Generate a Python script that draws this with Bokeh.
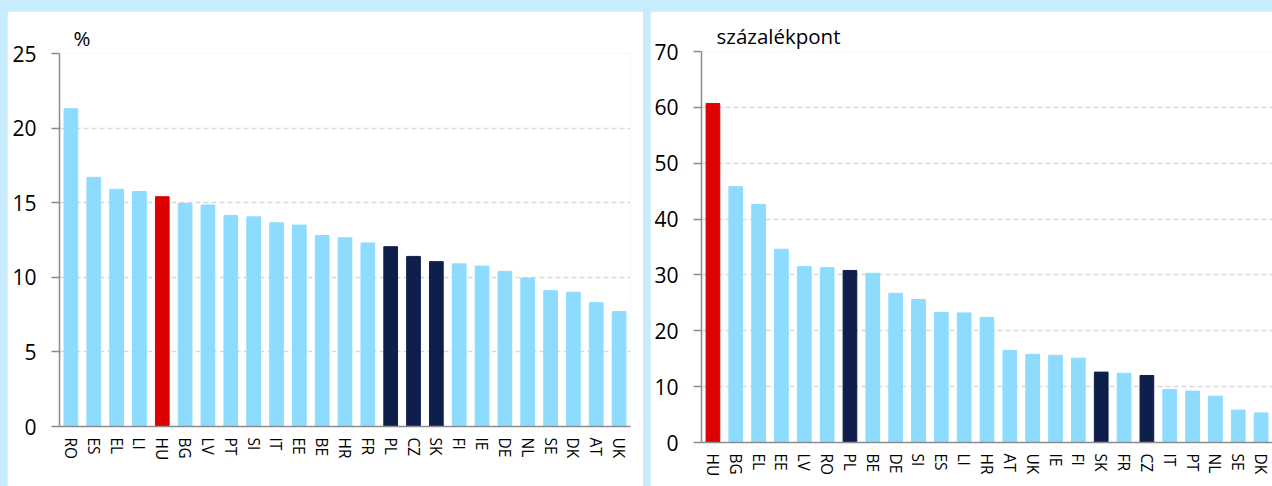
from bokeh.plotting import figure
from bokeh.layouts import row, column
from bokeh.models import FixedTicker, ColumnDataSource
from bokeh.embed import file_html
from bokeh.resources import INLINE

# ---- data ----
left_categories = ["RO", "ES", "EL", "LI", "HU", "BG", "LV", "PT", "SI", "IT", "EE", "BE", "HR",
                   "FR", "PL", "CZ", "SK", "FI", "IE", "DE", "NL", "SE", "DK", "AT", "UK"]
left_values = [21.3, 16.7, 15.9, 15.75, 15.4, 14.95, 14.85, 14.15, 14.05, 13.65, 13.5, 12.8, 12.65,
               12.3, 12.05, 11.4, 11.05, 10.9, 10.75, 10.4, 9.95, 9.1, 9.0, 8.3, 7.7]
left_ticks = [0, 5, 10, 15, 20, 25]
left_unit = "%"

right_categories = ["HU", "BG", "EL", "EE", "LV", "RO", "PL", "BE", "DE", "SI", "ES", "LI", "HR",
                    "AT", "UK", "IE", "FI", "SK", "FR", "CZ", "IT", "PT", "NL", "SE", "DK"]
right_values = [60.7, 45.8, 42.6, 34.6, 31.5, 31.3, 30.8, 30.3, 26.7, 25.6, 23.3, 23.2, 22.4,
                16.5, 15.8, 15.6, 15.1, 12.6, 12.4, 12.0, 9.5, 9.2, 8.3, 5.8, 5.3]
right_ticks = [0, 10, 20, 30, 40, 50, 60, 70]
right_unit = "százalékpont"

red_countries = ["HU"]
navy_countries = ["PL", "CZ", "SK"]

BASE = "#8ddcfe"
RED = "#dc0000"
NAVY = "#0e1f4b"
BAND = "#c6ecfd"
FONT = "Open Sans"


def make_panel(cats, vals, ticks, unit, width, height, mb_left, mb_top, mb_bottom, mb_right,
               title_offset, margin):
    colors = [RED if c in red_countries else NAVY if c in navy_countries else BASE for c in cats]
    src = ColumnDataSource(dict(x=cats, top=vals, color=colors))
    p = figure(x_range=cats, y_range=(0, ticks[-1]), width=width, height=height,
               output_backend="svg", toolbar_location=None, tools="",
               min_border_left=mb_left, min_border_right=mb_right,
               min_border_top=mb_top, min_border_bottom=mb_bottom,
               margin=margin)
    p.vbar(x="x", top="top", width=0.6, color="color", source=src)
    p.background_fill_color = "white"
    p.border_fill_color = "white"
    p.outline_line_color = None

    p.title.text = unit
    p.title.align = "left"
    p.title.offset = title_offset
    p.title.text_font = FONT
    p.title.text_font_size = "20.5px"
    p.title.text_font_style = "normal"
    p.title.text_color = "#000000"
    p.title.standoff = 4

    p.xgrid.grid_line_color = None
    p.ygrid.grid_line_color = "#d9d9d9"
    p.ygrid.grid_line_width = 1.5
    p.ygrid.grid_line_dash = "5 3"

    p.yaxis.ticker = FixedTicker(ticks=ticks)
    p.yaxis.axis_line_color = "#8c8c8c"
    p.yaxis.axis_line_width = 1.5
    p.yaxis.major_tick_line_color = "#8c8c8c"
    p.yaxis.major_tick_line_width = 1.5
    p.yaxis.major_tick_out = 8
    p.yaxis.major_tick_in = 0
    p.yaxis.minor_tick_line_color = None
    p.yaxis.major_label_standoff = 15
    p.yaxis.major_label_text_font = FONT
    p.yaxis.major_label_text_font_size = "21px"
    p.yaxis.major_label_text_color = "#000000"

    p.xaxis.axis_line_color = "#8c8c8c"
    p.xaxis.axis_line_width = 1.5
    p.xaxis.major_tick_line_color = None
    p.xaxis.major_tick_out = 0
    p.xaxis.major_tick_in = 0
    p.xaxis.minor_tick_line_color = None
    p.xaxis.major_label_orientation = "vertical"
    p.xaxis.major_label_standoff = 11
    p.xaxis.major_label_text_font = FONT
    p.xaxis.major_label_text_font_size = "15.5px"
    p.xaxis.major_label_text_color = "#000000"
    return p


p1 = make_panel(left_categories, left_values, left_ticks, left_unit,
                636, 475, 52, 42, 60, 13, 14, (11, 0, 0, 7))
p2 = make_panel(right_categories, right_values, right_ticks, right_unit,
                622, 475, 51, 40, 44, 0, 15, (11, 0, 0, 0))

layout = row(column(p1), column(p2), spacing=7, styles={"background-color": BAND})

open("out.html", "w").write(file_html(layout, INLINE))
